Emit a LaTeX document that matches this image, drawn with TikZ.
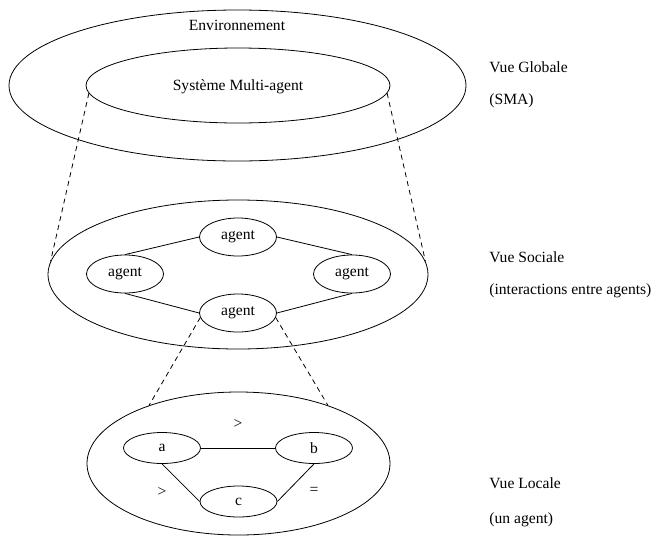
\documentclass[tikz,border=0pt]{standalone}
\usepackage{fontspec}
\setmainfont{Liberation Serif}
\usetikzlibrary{shapes.geometric}

\begin{document}
\begin{tikzpicture}[x=1pt, y=-1pt, line width=0.8pt,
	every node/.style={font=\fontsize{15.6}{18}\selectfont},
	zone/.style={draw, ellipse, inner sep=0pt},
	bulle/.style={draw, ellipse, inner sep=0pt, minimum width=77pt, minimum height=38pt},
	petite/.style={bulle, minimum height=31pt},
	zoom/.style={dash pattern=on 5pt off 4pt},
	vue/.style={anchor=west, inner sep=0pt}]
	\useasboundingbox (0,0) rectangle (655,536);

	% vue globale
	\node[zone, minimum width=457pt, minimum height=151pt] (env) at (237.5,85.5) {};
	\node[zone, minimum width=304pt, minimum height=75pt] (sma) at (238,85.5) {};
	\node (envtxt) at (237,25) {Environnement};
	\node (smatxt) at (238,87) {Système Multi-agent};

	% vue sociale
	\node[zone, minimum width=380pt, minimum height=149pt] (soc) at (238,274.5) {};
	\node[bulle] (ag1) at (238,237) {agent};
	\node[bulle] (ag2) at (125,274) {agent};
	\node[bulle] (ag3) at (352,274) {agent};
	\node[bulle] (ag4) at (238,313) {agent};
	\draw (ag1.west) -- (ag2.north);
	\draw (ag1.east) -- (ag3.north);
	\draw (ag4.west) -- (ag2.south);
	\draw (ag4.east) -- (ag3.south);
	\draw[zoom] (sma.183) -- (soc.176);
	\draw[zoom] (sma.-3) -- (soc.4);

	% vue locale
	\node[zone, minimum width=303pt, minimum height=143pt] (loc) at (238.5,463.5) {};
	\node[petite] (a) at (162,448) {a};
	\node[petite] (b) at (314,448) {b};
	\node[petite] (c) at (238.5,501.5) {c};
	\draw (a.east) -- (b.west);
	\draw (a.south) -- (c.west);
	\draw (b.south) -- (c.east);
	\node (sup1) at (238,424) {>};
	\node (sup2) at (162,492) {>};
	\node (egal) at (314,491) {=};
	\draw[zoom] (ag4.187) -- (loc.147);
	\draw[zoom] (ag4.-7) -- (loc.33);

	% legendes
	\node[vue] (glob) at (489,67) {Vue Globale};
	\node[vue] (globsma) at (489,101) {(SMA)};
	\node[vue] (soci) at (489,257) {Vue Sociale};
	\node[vue] (socint) at (489,291) {(interactions entre agents)};
	\node[vue] (loca) at (489,483) {Vue Locale};
	\node[vue] (locag) at (489,520) {(un agent)};
\end{tikzpicture}
\end{document}
